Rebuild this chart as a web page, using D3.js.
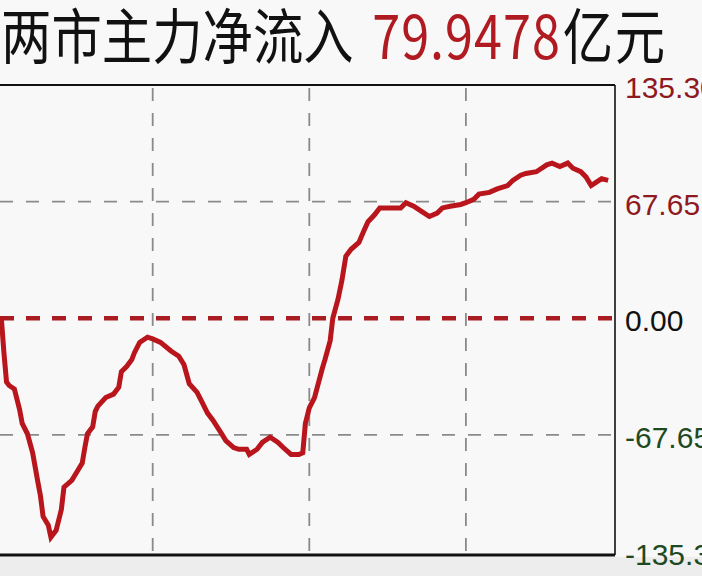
<!DOCTYPE html>
<html>
<head>
<meta charset="utf-8">
<script src="https://cdn.jsdelivr.net/npm/d3@7"></script>
<style>
  html, body { margin: 0; padding: 0; background: #f7f7f7; overflow: hidden; }
  svg { display: block; }
</style>
</head>
<body>
<svg id="chart" width="702" height="576"></svg>
<script>
// ---- data (minutes since open, net inflow in 亿元) ----
const minutes = [2, 3, 4, 5, 7, 9, 10, 12, 14, 16, 17, 18, 20, 21, 23, 25, 26, 29, 31, 33, 34, 35, 37, 38, 39, 42, 45, 47, 48, 50, 52, 53, 55, 58, 60, 63, 67, 70, 72, 74, 77, 79, 81, 83, 86, 88, 91, 93, 96, 97, 100, 102, 105, 108, 110, 113, 116, 117.5, 118.5, 120, 122, 125, 126, 128, 129, 131, 132.5, 134, 136, 139, 141, 142.5, 145, 147, 152, 155, 157, 160, 163, 166, 169, 171, 174, 178, 180, 183, 185, 189, 192, 196, 198, 201, 203, 207, 211, 213, 216, 219, 221, 224, 226, 228, 230, 232, 234.5];
const inflow = [0, -20, -37, -39, -41, -53, -61, -67, -78, -95, -103, -115, -120, -127, -123, -111, -98, -94, -89, -84, -75, -67, -63, -54, -51, -46, -44, -40, -31, -28, -24, -20, -14, -11, -12, -14, -19, -22, -27, -38, -43, -49, -55, -59, -66, -71, -75, -76, -76, -79, -76, -72, -69, -72, -75, -79, -79, -78, -61, -52, -46, -29, -24, -13, 0, 11, 22, 36, 40, 44, 51, 56, 60, 64, 64, 64, 67, 65, 62, 59, 61, 64, 65, 66, 67, 69, 72, 73, 75, 77, 80, 83, 84, 85, 89, 90, 88, 90, 87, 85, 82, 77, 79, 81, 80];
const yTicks = [135.30, 67.65, 0, -67.65, -135.30];
const yTickLabels = ["135.30", "67.65", "0.00", "-67.65", "-135.30"];
const yTickColors = ["#8e1a1f", "#8e1a1f", "#111111", "#1d4a22", "#1d4a22"];
const xGridMinutes = [60, 120, 180];
const titleText = "两市主力净流入";
const titleValue = "79.9478";
const titleUnit = "亿元";

// ---- layout ----
const W = 702, H = 576;
const plotRight = 615, plotTop = 85, plotBottom = 555;

const svg = d3.select("#chart");
const x = d3.scaleLinear().domain([0, 240]).range([-3.9, 622.5]);
const y = d3.scaleLinear().domain([-135.3, 135.3]).range([551.5, 85]);

// background
svg.append("rect").attr("x", 0).attr("y", 0).attr("width", W).attr("height", H).attr("fill", "#f8f8f8");
svg.append("rect").attr("x", 0).attr("y", plotBottom + 2).attr("width", W).attr("height", H - plotBottom).attr("fill", "#ededed");

// title
const title = svg.append("text")
  .attr("transform", "translate(1,59) scale(0.84,1)")
  .attr("font-family", "'Noto Sans CJK SC', sans-serif")
  .attr("font-size", 60)
  .attr("fill", "#111");
title.append("tspan").text(titleText);
title.append("tspan").attr("dx", 22).attr("fill", "#b01b22").attr("letter-spacing", 1.2).text(titleValue);
title.append("tspan").attr("dx", 2).attr("letter-spacing", 2).text(titleUnit);

// grid: horizontal gray dashed (non-zero ticks inside plot)
svg.append("g").selectAll("line")
  .data(yTicks.filter(v => v !== 0 && Math.abs(v) < 135))
  .join("line")
  .attr("x1", 0).attr("x2", plotRight)
  .attr("y1", d => y(d)).attr("y2", d => y(d))
  .attr("stroke", "#8a8a8a").attr("stroke-width", 1.8)
  .attr("stroke-dasharray", "13,13");

// grid: vertical gray dashed
svg.append("g").selectAll("line")
  .data(xGridMinutes)
  .join("line")
  .attr("x1", d => x(d)).attr("x2", d => x(d))
  .attr("y1", plotTop + 3).attr("y2", plotBottom - 2)
  .attr("stroke", "#8a8a8a").attr("stroke-width", 1.8)
  .attr("stroke-dasharray", "13,12");

// zero line: thick dark red dashed
svg.append("line")
  .attr("x1", 0).attr("x2", plotRight)
  .attr("y1", y(0)).attr("y2", y(0))
  .attr("stroke", "#a81c22").attr("stroke-width", 4.5)
  .attr("stroke-dasharray", "14,12");

// frame
svg.append("line").attr("x1", 0).attr("x2", plotRight).attr("y1", plotTop).attr("y2", plotTop)
  .attr("stroke", "#111").attr("stroke-width", 2);
svg.append("line").attr("x1", plotRight).attr("x2", plotRight).attr("y1", plotTop).attr("y2", plotBottom)
  .attr("stroke", "#111").attr("stroke-width", 1.6);
svg.append("line").attr("x1", 0).attr("x2", plotRight).attr("y1", plotBottom).attr("y2", plotBottom)
  .attr("stroke", "#111").attr("stroke-width", 3);

// data line
const pts = minutes.map((m, i) => [m, inflow[i]]);
const line = d3.line().x(d => x(d[0])).y(d => y(d[1])).curve(d3.curveLinear);
svg.append("path")
  .datum(pts)
  .attr("d", line)
  .attr("fill", "none")
  .attr("stroke", "#b8161c")
  .attr("stroke-width", 5)
  .attr("stroke-linejoin", "miter")
  .attr("stroke-linecap", "butt");

// right axis labels
const axis = d3.axisRight(y)
  .tickValues(yTicks)
  .tickSize(0)
  .tickPadding(10)
  .tickFormat((d, i) => yTickLabels[i]);
const gAxis = svg.append("g").attr("transform", `translate(${plotRight},0)`).call(axis);
gAxis.select(".domain").remove();
gAxis.selectAll("text")
  .attr("font-family", "'Liberation Sans', Arial, sans-serif")
  .attr("font-size", 30)
  .attr("dy", "0.42em")
  .attr("fill", (d, i) => yTickColors[i]);
</script>
</body>
</html>
